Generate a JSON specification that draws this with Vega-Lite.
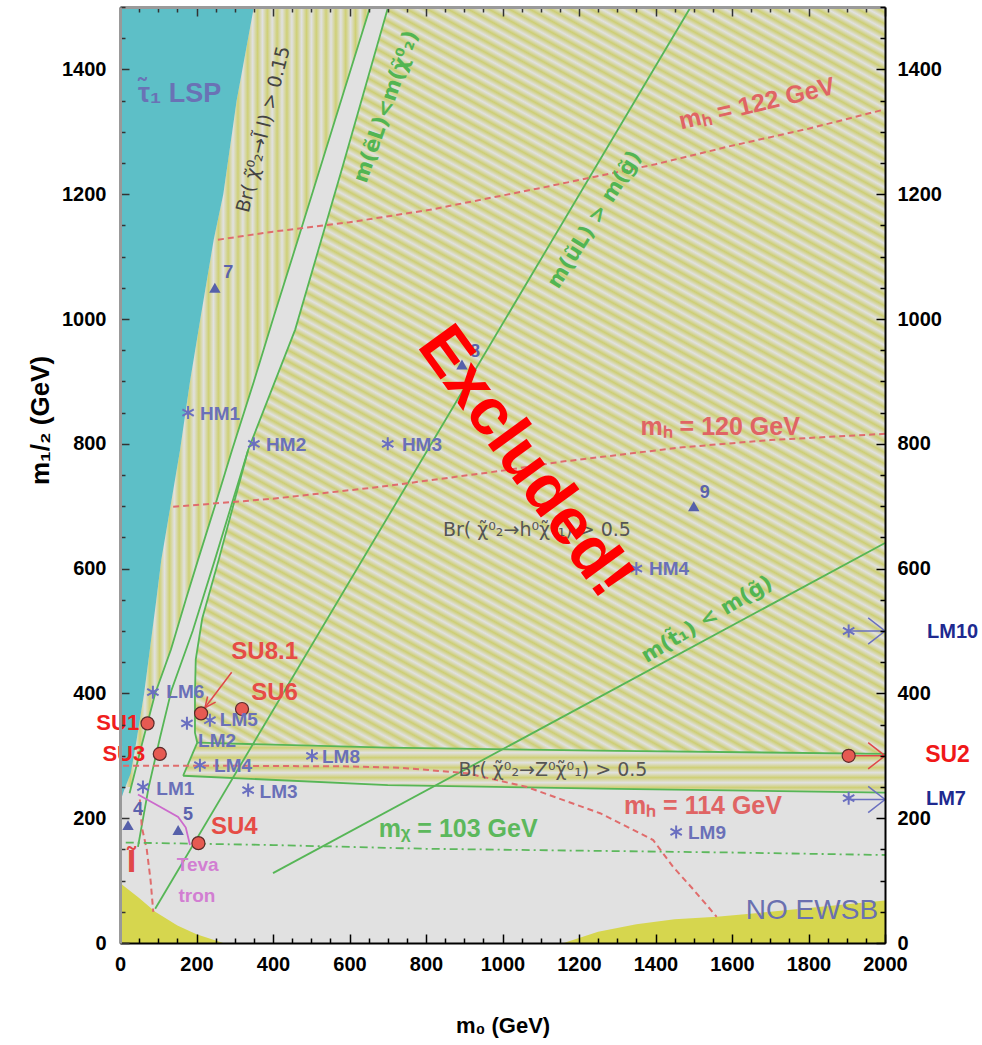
{
  "$schema": "https://vega.github.io/schema/vega-lite/v6.json",
  "width": 765,
  "height": 936,
  "autosize": {"type": "none"},
  "padding": {"left": 120, "top": 7, "right": 97, "bottom": 102},
  "background": "#ffffff",
  "config": {"view": {"stroke": null, "fill": "#e1e1e1"}, "font": "Liberation Sans"},
  "datasets": {
    "ewsb": [
      {"id": "a", "m0": 0, "m12": 96}, {"id": "a", "m0": 50, "m12": 72}, {"id": "a", "m0": 92, "m12": 50},
      {"id": "a", "m0": 150, "m12": 28}, {"id": "a", "m0": 200, "m12": 14}, {"id": "a", "m0": 270, "m12": 0},
      {"id": "b", "m0": 1160, "m12": 0}, {"id": "b", "m0": 1250, "m12": 18}, {"id": "b", "m0": 1350, "m12": 30},
      {"id": "b", "m0": 1450, "m12": 38}, {"id": "b", "m0": 1560, "m12": 42}, {"id": "b", "m0": 1700, "m12": 50},
      {"id": "b", "m0": 1800, "m12": 56}, {"id": "b", "m0": 1900, "m12": 62}, {"id": "b", "m0": 2000, "m12": 68}
    ],
    "teal": [
      {"m12": 225, "m0": 0, "hi": 0}, {"m12": 240, "m0": 0, "hi": 8}, {"m12": 250, "m0": 0, "hi": 14},
      {"m12": 272, "m0": 0, "hi": 28}, {"m12": 320, "m0": 0, "hi": 42}, {"m12": 400, "m0": 0, "hi": 63},
      {"m12": 470, "m0": 0, "hi": 78}, {"m12": 550, "m0": 0, "hi": 95}, {"m12": 614, "m0": 0, "hi": 108},
      {"m12": 700, "m0": 0, "hi": 132}, {"m12": 790, "m0": 0, "hi": 157}, {"m12": 900, "m0": 0, "hi": 183},
      {"m12": 1000, "m0": 0, "hi": 210}, {"m12": 1127, "m0": 0, "hi": 245}, {"m12": 1200, "m0": 0, "hi": 270},
      {"m12": 1350, "m0": 0, "hi": 305}, {"m12": 1500, "m0": 0, "hi": 350}
    ],
    "vstripe": [
      {"m12": 250, "m0": 14, "hi": 29}, {"m12": 320, "m0": 42, "hi": 58}, {"m12": 400, "m0": 63, "hi": 92},
      {"m12": 470, "m0": 78, "hi": 133}, {"m12": 550, "m0": 95, "hi": 172}, {"m12": 614, "m0": 108, "hi": 204},
      {"m12": 700, "m0": 132, "hi": 248}, {"m12": 790, "m0": 157, "hi": 293}, {"m12": 900, "m0": 183, "hi": 350},
      {"m12": 1000, "m0": 210, "hi": 400}, {"m12": 1127, "m0": 245, "hi": 465}, {"m12": 1200, "m0": 270, "hi": 502},
      {"m12": 1350, "m0": 305, "hi": 578}, {"m12": 1500, "m0": 350, "hi": 654}
    ],
    "hatch": [
      {"m12": 300, "m0": 200, "hi": 2000}, {"m12": 321, "m0": 202, "hi": 2000}, {"m12": 337, "m0": 196, "hi": 2000},
      {"m12": 400, "m0": 196, "hi": 2000}, {"m12": 454, "m0": 198, "hi": 2000}, {"m12": 520, "m0": 215, "hi": 2000},
      {"m12": 614, "m0": 258, "hi": 2000}, {"m12": 790, "m0": 335, "hi": 2000}, {"m12": 983, "m0": 458, "hi": 2000},
      {"m12": 1240, "m0": 580, "hi": 2000}, {"m12": 1500, "m0": 701, "hi": 2000}
    ],
    "zband": [
      {"m0": 165, "m12": 269, "lo": 268}, {"m0": 202, "m12": 321, "lo": 267}, {"m0": 700, "m12": 313, "lo": 253},
      {"m0": 1300, "m12": 308, "lo": 247}, {"m0": 2000, "m12": 303, "lo": 241}
    ],
    "gLines": [
      {"id": "A", "i": 0, "m0": 654, "m12": 1500}, {"id": "A", "i": 1, "m0": 578, "m12": 1350}, {"id": "A", "i": 2, "m0": 502, "m12": 1200},
      {"id": "A", "i": 3, "m0": 465, "m12": 1127}, {"id": "A", "i": 4, "m0": 400, "m12": 1000}, {"id": "A", "i": 5, "m0": 350, "m12": 900},
      {"id": "A", "i": 6, "m0": 293, "m12": 790}, {"id": "A", "i": 7, "m0": 248, "m12": 700}, {"id": "A", "i": 8, "m0": 204, "m12": 614},
      {"id": "A", "i": 9, "m0": 172, "m12": 550}, {"id": "A", "i": 10, "m0": 133, "m12": 470}, {"id": "A", "i": 11, "m0": 92, "m12": 400},
      {"id": "A", "i": 12, "m0": 58, "m12": 320}, {"id": "A", "i": 13, "m0": 25, "m12": 240},
      {"id": "B", "i": 0, "m0": 701, "m12": 1500}, {"id": "B", "i": 1, "m0": 580, "m12": 1240}, {"id": "B", "i": 2, "m0": 458, "m12": 983},
      {"id": "B", "i": 3, "m0": 335, "m12": 790}, {"id": "B", "i": 4, "m0": 248, "m12": 614}, {"id": "B", "i": 5, "m0": 190, "m12": 500},
      {"id": "B", "i": 6, "m0": 135, "m12": 406}, {"id": "B", "i": 7, "m0": 105, "m12": 330}, {"id": "B", "i": 8, "m0": 75, "m12": 250},
      {"id": "B", "i": 9, "m0": 47, "m12": 154},
      {"id": "C", "i": 0, "m0": 335, "m12": 790}, {"id": "C", "i": 1, "m0": 258, "m12": 614}, {"id": "C", "i": 2, "m0": 215, "m12": 520},
      {"id": "C", "i": 3, "m0": 198, "m12": 454}, {"id": "C", "i": 4, "m0": 196, "m12": 400}, {"id": "C", "i": 5, "m0": 196, "m12": 337},
      {"id": "C", "i": 6, "m0": 202, "m12": 321},
      {"id": "U", "i": 0, "m0": 1492, "m12": 1500}, {"id": "U", "i": 1, "m0": 92, "m12": 55},
      {"id": "T", "i": 0, "m0": 400, "m12": 112}, {"id": "T", "i": 1, "m0": 2000, "m12": 641},
      {"id": "ZT", "i": 0, "m0": 202, "m12": 321}, {"id": "ZT", "i": 1, "m0": 700, "m12": 313}, {"id": "ZT", "i": 2, "m0": 1300, "m12": 308}, {"id": "ZT", "i": 3, "m0": 2000, "m12": 303},
      {"id": "ZB", "i": 0, "m0": 165, "m12": 268}, {"id": "ZB", "i": 1, "m0": 700, "m12": 253}, {"id": "ZB", "i": 2, "m0": 1300, "m12": 247}, {"id": "ZB", "i": 3, "m0": 2000, "m12": 241},
      {"id": "ZL", "i": 0, "m0": 165, "m12": 268}, {"id": "ZL", "i": 1, "m0": 202, "m12": 321}
    ],
    "mhLines": [
      {"id": "h122", "i": 0, "m0": 256, "m12": 1127}, {"id": "h122", "i": 1, "m0": 400, "m12": 1140}, {"id": "h122", "i": 2, "m0": 600, "m12": 1155},
      {"id": "h122", "i": 3, "m0": 810, "m12": 1175}, {"id": "h122", "i": 4, "m0": 1100, "m12": 1210}, {"id": "h122", "i": 5, "m0": 1400, "m12": 1248},
      {"id": "h122", "i": 6, "m0": 1595, "m12": 1277}, {"id": "h122", "i": 7, "m0": 1800, "m12": 1305}, {"id": "h122", "i": 8, "m0": 2000, "m12": 1336},
      {"id": "h120", "i": 0, "m0": 139, "m12": 699}, {"id": "h120", "i": 1, "m0": 400, "m12": 712}, {"id": "h120", "i": 2, "m0": 680, "m12": 731},
      {"id": "h120", "i": 3, "m0": 1000, "m12": 757}, {"id": "h120", "i": 4, "m0": 1150, "m12": 771}, {"id": "h120", "i": 5, "m0": 1464, "m12": 794},
      {"id": "h120", "i": 6, "m0": 1700, "m12": 806}, {"id": "h120", "i": 7, "m0": 2000, "m12": 816},
      {"id": "h114", "i": 0, "m0": 8, "m12": 284}, {"id": "h114", "i": 1, "m0": 300, "m12": 284}, {"id": "h114", "i": 2, "m0": 600, "m12": 283},
      {"id": "h114", "i": 3, "m0": 732, "m12": 281}, {"id": "h114", "i": 4, "m0": 907, "m12": 272}, {"id": "h114", "i": 5, "m0": 1064, "m12": 250},
      {"id": "h114", "i": 6, "m0": 1255, "m12": 208}, {"id": "h114", "i": 7, "m0": 1394, "m12": 165}, {"id": "h114", "i": 8, "m0": 1446, "m12": 122},
      {"id": "h114", "i": 9, "m0": 1500, "m12": 85}, {"id": "h114", "i": 10, "m0": 1560, "m12": 42},
      {"id": "slep", "i": 0, "m0": 52, "m12": 230}, {"id": "slep", "i": 1, "m0": 57, "m12": 186}, {"id": "slep", "i": 2, "m0": 70, "m12": 150},
      {"id": "slep", "i": 3, "m0": 80, "m12": 100}, {"id": "slep", "i": 4, "m0": 87, "m12": 50}
    ],
    "mchi": [
      {"i": 0, "m0": 15, "m12": 161}, {"i": 1, "m0": 400, "m12": 157}, {"i": 2, "m0": 800, "m12": 151},
      {"i": 3, "m0": 1200, "m12": 148}, {"i": 4, "m0": 1600, "m12": 145}, {"i": 5, "m0": 2000, "m12": 141}
    ],
    "tev": [
      {"i": 0, "m0": 47, "m12": 238}, {"i": 1, "m0": 100, "m12": 220}, {"i": 2, "m0": 152, "m12": 202},
      {"i": 3, "m0": 172, "m12": 185}, {"i": 4, "m0": 183, "m12": 157}
    ],
    "redArrows": [
      {"id": "s81", "i": 0, "m0": 292, "m12": 434}, {"id": "s81", "i": 1, "m0": 222, "m12": 377},
      {"id": "s81h", "i": 0, "m0": 250, "m12": 386}, {"id": "s81h", "i": 1, "m0": 222, "m12": 377}, {"id": "s81h", "i": 2, "m0": 229, "m12": 395},
      {"id": "su2", "i": 0, "m0": 1905, "m12": 300}, {"id": "su2", "i": 1, "m0": 2000, "m12": 300},
      {"id": "su2h", "i": 0, "m0": 1956, "m12": 321}, {"id": "su2h", "i": 1, "m0": 2000, "m12": 300}, {"id": "su2h", "i": 2, "m0": 1956, "m12": 279}
    ],
    "blueArrows": [
      {"id": "lm10", "i": 0, "m0": 1905, "m12": 500}, {"id": "lm10", "i": 1, "m0": 2000, "m12": 500},
      {"id": "lm10h", "i": 0, "m0": 1956, "m12": 521}, {"id": "lm10h", "i": 1, "m0": 2000, "m12": 500}, {"id": "lm10h", "i": 2, "m0": 1956, "m12": 479},
      {"id": "lm7", "i": 0, "m0": 1905, "m12": 230}, {"id": "lm7", "i": 1, "m0": 2000, "m12": 230},
      {"id": "lm7h", "i": 0, "m0": 1956, "m12": 251}, {"id": "lm7h", "i": 1, "m0": 2000, "m12": 230}, {"id": "lm7h", "i": 2, "m0": 1956, "m12": 209}
    ],
    "su": [
      {"name": "SU1", "m0": 72, "m12": 352}, {"name": "SU3", "m0": 104, "m12": 303}, {"name": "SU8.1", "m0": 212, "m12": 368},
      {"name": "SU6", "m0": 319, "m12": 375}, {"name": "SU4", "m0": 205, "m12": 160}, {"name": "SU2", "m0": 1905, "m12": 300}
    ],
    "lm": [
      {"name": "LM1", "m0": 60, "m12": 250}, {"name": "LM2", "m0": 175, "m12": 352}, {"name": "LM3", "m0": 335, "m12": 245},
      {"name": "LM4", "m0": 209, "m12": 285}, {"name": "LM5", "m0": 235, "m12": 357}, {"name": "LM6", "m0": 86, "m12": 402},
      {"name": "LM7", "m0": 1905, "m12": 232}, {"name": "LM8", "m0": 502, "m12": 300}, {"name": "LM9", "m0": 1454, "m12": 178},
      {"name": "LM10", "m0": 1905, "m12": 500}, {"name": "HM1", "m0": 178, "m12": 850}, {"name": "HM2", "m0": 350, "m12": 800},
      {"name": "HM3", "m0": 700, "m12": 800}, {"name": "HM4", "m0": 1350, "m12": 600}
    ],
    "tri": [
      {"name": "4", "m0": 21, "m12": 189}, {"name": "5", "m0": 152, "m12": 181}, {"name": "7", "m0": 248, "m12": 1050},
      {"name": "8", "m0": 894, "m12": 927}, {"name": "9", "m0": 1500, "m12": 700}
    ],
    "lmLabels": [
      {"t": "LM6", "m0": 121, "m12": 403}, {"t": "LM5", "m0": 261, "m12": 357}, {"t": "LM2", "m0": 204, "m12": 323},
      {"t": "LM4", "m0": 246, "m12": 283}, {"t": "LM1", "m0": 95, "m12": 246}, {"t": "LM3", "m0": 365, "m12": 242},
      {"t": "LM8", "m0": 528, "m12": 298}, {"t": "LM9", "m0": 1485, "m12": 176}, {"t": "HM1", "m0": 209, "m12": 848},
      {"t": "HM2", "m0": 382, "m12": 798}, {"t": "HM3", "m0": 737, "m12": 798}, {"t": "HM4", "m0": 1383, "m12": 599}
    ],
    "suLabels": [
      {"t": "SU8.1", "m0": 291, "m12": 466}, {"t": "SU6", "m0": 343, "m12": 400}, {"t": "SU4", "m0": 238, "m12": 186}
    ],
    "suLeftLabels": [
      {"t": "SU1", "m0": 50, "m12": 352}, {"t": "SU3", "m0": 66, "m12": 303}
    ],
    "outLabels": [
      {"t": "LM10", "m0": 2110, "m12": 498}, {"t": "LM7", "m0": 2107, "m12": 230}
    ],
    "numLabels": [
      {"t": "4", "m0": 47, "m12": 213}, {"t": "5", "m0": 178, "m12": 205}, {"t": "7", "m0": 283, "m12": 1073},
      {"t": "8", "m0": 928, "m12": 947}, {"t": "9", "m0": 1529, "m12": 721}
    ],
    "mhLabels": [
      {"t": "mₕ = 120 GeV", "m0": 1569, "m12": 827}, {"t": "mₕ = 114 GeV", "m0": 1524, "m12": 220}
    ]
  },
  "resolve": {"axis": {"x": "independent", "y": "independent"}},
  "layer": [
    {
      "encoding": {
        "x": {
          "field": "m0", "type": "quantitative",
          "scale": {"domain": [0, 2000], "nice": false, "zero": false},
          "axis": {
            "orient": "bottom", "zindex": 1,
            "values": [0, 50, 100, 150, 200, 250, 300, 350, 400, 450, 500, 550, 600, 650, 700, 750, 800, 850, 900, 950, 1000, 1050, 1100, 1150, 1200, 1250, 1300, 1350, 1400, 1450, 1500, 1550, 1600, 1650, 1700, 1750, 1800, 1850, 1900, 1950, 2000],
            "format": "d",
            "labelExpr": "datum.value % 200 === 0 ? datum.label : ''",
            "tickSize": {"condition": {"test": "datum.value % 200 === 0", "value": -9}, "value": -5},
            "tickColor": "#000000", "tickWidth": 1.5,
            "domainColor": "#000000", "domainWidth": 2,
            "grid": false,
            "labelFont": "Liberation Sans", "labelFontWeight": "bold", "labelFontSize": 20, "labelColor": "#000000",
            "labelPadding": 20, "labelFlush": false, "labelOverlap": false, "labelBound": false,
            "title": "m₀ (GeV)", "titleFont": "Liberation Sans", "titleFontWeight": "bold", "titleFontSize": 22,
            "titleColor": "#000000", "titleBaseline": "middle", "titleY": 82
          }
        },
        "y": {
          "field": "m12", "type": "quantitative",
          "scale": {"domain": [0, 1500], "nice": false, "zero": false},
          "axis": {
            "orient": "left", "zindex": 1,
            "values": [0, 50, 100, 150, 200, 250, 300, 350, 400, 450, 500, 550, 600, 650, 700, 750, 800, 850, 900, 950, 1000, 1050, 1100, 1150, 1200, 1250, 1300, 1350, 1400, 1450, 1500],
            "format": "d",
            "labelExpr": "datum.value % 200 === 0 ? datum.label : ''",
            "tickSize": {"condition": {"test": "datum.value % 200 === 0", "value": -9}, "value": -5},
            "tickColor": "#333333", "tickWidth": 1.5,
            "domainColor": "#999999", "domainWidth": 3,
            "grid": false,
            "labelFont": "Liberation Sans", "labelFontWeight": "bold", "labelFontSize": 20, "labelColor": "#000000",
            "labelPadding": 23, "labelFlush": false, "labelOverlap": false, "labelBound": false,
            "title": "m₁/₂ (GeV)", "titleFont": "Liberation Sans", "titleFontWeight": "bold", "titleFontSize": 26,
            "titleColor": "#000000", "titleAngle": -90, "titleX": -80, "titleY": 413, "titleBaseline": "middle", "titleAlign": "center"
          }
        }
      },
      "layer": [
        {
          "data": {"name": "ewsb"},
          "mark": {"type": "area", "color": "#d6d64e", "opacity": 1},
          "encoding": {"y2": {"datum": 0}, "detail": {"field": "id"}}
        },
        {
          "data": {"name": "vstripe"},
          "mark": {
            "type": "area", "orient": "horizontal",
            "fill": {
              "gradient": "linear", "x1": 0, "y1": 0, "x2": 1, "y2": 0,
              "stops": [
                {"offset": 0, "color": "#e1e1e1"}, {"offset": 0.02, "color": "#cfd076"}, {"offset": 0.04, "color": "#e1e1e1"}, {"offset": 0.06, "color": "#cfd076"},
                {"offset": 0.08, "color": "#e1e1e1"}, {"offset": 0.1, "color": "#cfd076"}, {"offset": 0.12, "color": "#e1e1e1"}, {"offset": 0.14, "color": "#cfd076"},
                {"offset": 0.16, "color": "#e1e1e1"}, {"offset": 0.18, "color": "#cfd076"}, {"offset": 0.2, "color": "#e1e1e1"}, {"offset": 0.22, "color": "#cfd076"},
                {"offset": 0.24, "color": "#e1e1e1"}, {"offset": 0.26, "color": "#cfd076"}, {"offset": 0.28, "color": "#e1e1e1"}, {"offset": 0.3, "color": "#cfd076"},
                {"offset": 0.32, "color": "#e1e1e1"}, {"offset": 0.34, "color": "#cfd076"}, {"offset": 0.36, "color": "#e1e1e1"}, {"offset": 0.38, "color": "#cfd076"},
                {"offset": 0.4, "color": "#e1e1e1"}, {"offset": 0.42, "color": "#cfd076"}, {"offset": 0.44, "color": "#e1e1e1"}, {"offset": 0.46, "color": "#cfd076"},
                {"offset": 0.48, "color": "#e1e1e1"}, {"offset": 0.5, "color": "#cfd076"}, {"offset": 0.52, "color": "#e1e1e1"}, {"offset": 0.54, "color": "#cfd076"},
                {"offset": 0.56, "color": "#e1e1e1"}, {"offset": 0.58, "color": "#cfd076"}, {"offset": 0.6, "color": "#e1e1e1"}, {"offset": 0.62, "color": "#cfd076"},
                {"offset": 0.64, "color": "#e1e1e1"}, {"offset": 0.66, "color": "#cfd076"}, {"offset": 0.68, "color": "#e1e1e1"}, {"offset": 0.7, "color": "#cfd076"},
                {"offset": 0.72, "color": "#e1e1e1"}, {"offset": 0.74, "color": "#cfd076"}, {"offset": 0.76, "color": "#e1e1e1"}, {"offset": 0.78, "color": "#cfd076"},
                {"offset": 0.8, "color": "#e1e1e1"}, {"offset": 0.82, "color": "#cfd076"}, {"offset": 0.84, "color": "#e1e1e1"}, {"offset": 0.86, "color": "#cfd076"},
                {"offset": 0.88, "color": "#e1e1e1"}, {"offset": 0.9, "color": "#cfd076"}, {"offset": 0.92, "color": "#e1e1e1"}, {"offset": 0.94, "color": "#cfd076"},
                {"offset": 0.96, "color": "#e1e1e1"}, {"offset": 0.98, "color": "#cfd076"}, {"offset": 1, "color": "#e1e1e1"}
              ]
            }
          },
          "encoding": {"x2": {"field": "hi"}}
        },
        {
          "data": {"name": "hatch"},
          "mark": {
            "type": "area", "orient": "horizontal",
            "fill": {
              "gradient": "linear", "x1": 1, "y1": 0, "x2": 0.3924, "y2": 1.1989,
              "stops": [
                {"offset": 0, "color": "#e1e1e1"}, {"offset": 0.005, "color": "#cdce74"}, {"offset": 0.01, "color": "#e1e1e1"}, {"offset": 0.015, "color": "#cdce74"},
                {"offset": 0.02, "color": "#e1e1e1"}, {"offset": 0.025, "color": "#cdce74"}, {"offset": 0.03, "color": "#e1e1e1"}, {"offset": 0.035, "color": "#cdce74"},
                {"offset": 0.04, "color": "#e1e1e1"}, {"offset": 0.045, "color": "#cdce74"}, {"offset": 0.05, "color": "#e1e1e1"}, {"offset": 0.055, "color": "#cdce74"},
                {"offset": 0.06, "color": "#e1e1e1"}, {"offset": 0.065, "color": "#cdce74"}, {"offset": 0.07, "color": "#e1e1e1"}, {"offset": 0.075, "color": "#cdce74"},
                {"offset": 0.08, "color": "#e1e1e1"}, {"offset": 0.085, "color": "#cdce74"}, {"offset": 0.09, "color": "#e1e1e1"}, {"offset": 0.095, "color": "#cdce74"},
                {"offset": 0.1, "color": "#e1e1e1"}, {"offset": 0.105, "color": "#cdce74"}, {"offset": 0.11, "color": "#e1e1e1"}, {"offset": 0.115, "color": "#cdce74"},
                {"offset": 0.12, "color": "#e1e1e1"}, {"offset": 0.125, "color": "#cdce74"}, {"offset": 0.13, "color": "#e1e1e1"}, {"offset": 0.135, "color": "#cdce74"},
                {"offset": 0.14, "color": "#e1e1e1"}, {"offset": 0.145, "color": "#cdce74"}, {"offset": 0.15, "color": "#e1e1e1"}, {"offset": 0.155, "color": "#cdce74"},
                {"offset": 0.16, "color": "#e1e1e1"}, {"offset": 0.165, "color": "#cdce74"}, {"offset": 0.17, "color": "#e1e1e1"}, {"offset": 0.175, "color": "#cdce74"},
                {"offset": 0.18, "color": "#e1e1e1"}, {"offset": 0.185, "color": "#cdce74"}, {"offset": 0.19, "color": "#e1e1e1"}, {"offset": 0.195, "color": "#cdce74"},
                {"offset": 0.2, "color": "#e1e1e1"}, {"offset": 0.205, "color": "#cdce74"}, {"offset": 0.21, "color": "#e1e1e1"}, {"offset": 0.215, "color": "#cdce74"},
                {"offset": 0.22, "color": "#e1e1e1"}, {"offset": 0.225, "color": "#cdce74"}, {"offset": 0.23, "color": "#e1e1e1"}, {"offset": 0.235, "color": "#cdce74"},
                {"offset": 0.24, "color": "#e1e1e1"}, {"offset": 0.245, "color": "#cdce74"}, {"offset": 0.25, "color": "#e1e1e1"}, {"offset": 0.255, "color": "#cdce74"},
                {"offset": 0.26, "color": "#e1e1e1"}, {"offset": 0.265, "color": "#cdce74"}, {"offset": 0.27, "color": "#e1e1e1"}, {"offset": 0.275, "color": "#cdce74"},
                {"offset": 0.28, "color": "#e1e1e1"}, {"offset": 0.285, "color": "#cdce74"}, {"offset": 0.29, "color": "#e1e1e1"}, {"offset": 0.295, "color": "#cdce74"},
                {"offset": 0.3, "color": "#e1e1e1"}, {"offset": 0.305, "color": "#cdce74"}, {"offset": 0.31, "color": "#e1e1e1"}, {"offset": 0.315, "color": "#cdce74"},
                {"offset": 0.32, "color": "#e1e1e1"}, {"offset": 0.325, "color": "#cdce74"}, {"offset": 0.33, "color": "#e1e1e1"}, {"offset": 0.335, "color": "#cdce74"},
                {"offset": 0.34, "color": "#e1e1e1"}, {"offset": 0.345, "color": "#cdce74"}, {"offset": 0.35, "color": "#e1e1e1"}, {"offset": 0.355, "color": "#cdce74"},
                {"offset": 0.36, "color": "#e1e1e1"}, {"offset": 0.365, "color": "#cdce74"}, {"offset": 0.37, "color": "#e1e1e1"}, {"offset": 0.375, "color": "#cdce74"},
                {"offset": 0.38, "color": "#e1e1e1"}, {"offset": 0.385, "color": "#cdce74"}, {"offset": 0.39, "color": "#e1e1e1"}, {"offset": 0.395, "color": "#cdce74"},
                {"offset": 0.4, "color": "#e1e1e1"}, {"offset": 0.405, "color": "#cdce74"}, {"offset": 0.41, "color": "#e1e1e1"}, {"offset": 0.415, "color": "#cdce74"},
                {"offset": 0.42, "color": "#e1e1e1"}, {"offset": 0.425, "color": "#cdce74"}, {"offset": 0.43, "color": "#e1e1e1"}, {"offset": 0.435, "color": "#cdce74"},
                {"offset": 0.44, "color": "#e1e1e1"}, {"offset": 0.445, "color": "#cdce74"}, {"offset": 0.45, "color": "#e1e1e1"}, {"offset": 0.455, "color": "#cdce74"},
                {"offset": 0.46, "color": "#e1e1e1"}, {"offset": 0.465, "color": "#cdce74"}, {"offset": 0.47, "color": "#e1e1e1"}, {"offset": 0.475, "color": "#cdce74"},
                {"offset": 0.48, "color": "#e1e1e1"}, {"offset": 0.485, "color": "#cdce74"}, {"offset": 0.49, "color": "#e1e1e1"}, {"offset": 0.495, "color": "#cdce74"},
                {"offset": 0.5, "color": "#e1e1e1"}, {"offset": 0.505, "color": "#cdce74"}, {"offset": 0.51, "color": "#e1e1e1"}, {"offset": 0.515, "color": "#cdce74"},
                {"offset": 0.52, "color": "#e1e1e1"}, {"offset": 0.525, "color": "#cdce74"}, {"offset": 0.53, "color": "#e1e1e1"}, {"offset": 0.535, "color": "#cdce74"},
                {"offset": 0.54, "color": "#e1e1e1"}, {"offset": 0.545, "color": "#cdce74"}, {"offset": 0.55, "color": "#e1e1e1"}, {"offset": 0.555, "color": "#cdce74"},
                {"offset": 0.56, "color": "#e1e1e1"}, {"offset": 0.565, "color": "#cdce74"}, {"offset": 0.57, "color": "#e1e1e1"}, {"offset": 0.575, "color": "#cdce74"},
                {"offset": 0.58, "color": "#e1e1e1"}, {"offset": 0.585, "color": "#cdce74"}, {"offset": 0.59, "color": "#e1e1e1"}, {"offset": 0.595, "color": "#cdce74"},
                {"offset": 0.6, "color": "#e1e1e1"}, {"offset": 0.605, "color": "#cdce74"}, {"offset": 0.61, "color": "#e1e1e1"}, {"offset": 0.615, "color": "#cdce74"},
                {"offset": 0.62, "color": "#e1e1e1"}, {"offset": 0.625, "color": "#cdce74"}, {"offset": 0.63, "color": "#e1e1e1"}, {"offset": 0.635, "color": "#cdce74"},
                {"offset": 0.64, "color": "#e1e1e1"}, {"offset": 0.645, "color": "#cdce74"}, {"offset": 0.65, "color": "#e1e1e1"}, {"offset": 0.655, "color": "#cdce74"},
                {"offset": 0.66, "color": "#e1e1e1"}, {"offset": 0.665, "color": "#cdce74"}, {"offset": 0.67, "color": "#e1e1e1"}, {"offset": 0.675, "color": "#cdce74"},
                {"offset": 0.68, "color": "#e1e1e1"}, {"offset": 0.685, "color": "#cdce74"}, {"offset": 0.69, "color": "#e1e1e1"}, {"offset": 0.695, "color": "#cdce74"},
                {"offset": 0.7, "color": "#e1e1e1"}, {"offset": 0.705, "color": "#cdce74"}, {"offset": 0.71, "color": "#e1e1e1"}, {"offset": 0.715, "color": "#cdce74"},
                {"offset": 0.72, "color": "#e1e1e1"}, {"offset": 0.725, "color": "#cdce74"}, {"offset": 0.73, "color": "#e1e1e1"}, {"offset": 0.735, "color": "#cdce74"},
                {"offset": 0.74, "color": "#e1e1e1"}, {"offset": 0.745, "color": "#cdce74"}, {"offset": 0.75, "color": "#e1e1e1"}, {"offset": 0.755, "color": "#cdce74"},
                {"offset": 0.76, "color": "#e1e1e1"}, {"offset": 0.765, "color": "#cdce74"}, {"offset": 0.77, "color": "#e1e1e1"}, {"offset": 0.775, "color": "#cdce74"},
                {"offset": 0.78, "color": "#e1e1e1"}, {"offset": 0.785, "color": "#cdce74"}, {"offset": 0.79, "color": "#e1e1e1"}, {"offset": 0.795, "color": "#cdce74"},
                {"offset": 0.8, "color": "#e1e1e1"}, {"offset": 0.805, "color": "#cdce74"}, {"offset": 0.81, "color": "#e1e1e1"}, {"offset": 0.815, "color": "#cdce74"},
                {"offset": 0.82, "color": "#e1e1e1"}, {"offset": 0.825, "color": "#cdce74"}, {"offset": 0.83, "color": "#e1e1e1"}, {"offset": 0.835, "color": "#cdce74"},
                {"offset": 0.84, "color": "#e1e1e1"}, {"offset": 0.845, "color": "#cdce74"}, {"offset": 0.85, "color": "#e1e1e1"}, {"offset": 0.855, "color": "#cdce74"},
                {"offset": 0.86, "color": "#e1e1e1"}, {"offset": 0.865, "color": "#cdce74"}, {"offset": 0.87, "color": "#e1e1e1"}, {"offset": 0.875, "color": "#cdce74"},
                {"offset": 0.88, "color": "#e1e1e1"}, {"offset": 0.885, "color": "#cdce74"}, {"offset": 0.89, "color": "#e1e1e1"}, {"offset": 0.895, "color": "#cdce74"},
                {"offset": 0.9, "color": "#e1e1e1"}, {"offset": 0.905, "color": "#cdce74"}, {"offset": 0.91, "color": "#e1e1e1"}, {"offset": 0.915, "color": "#cdce74"},
                {"offset": 0.92, "color": "#e1e1e1"}, {"offset": 0.925, "color": "#cdce74"}, {"offset": 0.93, "color": "#e1e1e1"}, {"offset": 0.935, "color": "#cdce74"},
                {"offset": 0.94, "color": "#e1e1e1"}, {"offset": 0.945, "color": "#cdce74"}, {"offset": 0.95, "color": "#e1e1e1"}, {"offset": 0.955, "color": "#cdce74"},
                {"offset": 0.96, "color": "#e1e1e1"}, {"offset": 0.965, "color": "#cdce74"}, {"offset": 0.97, "color": "#e1e1e1"}, {"offset": 0.975, "color": "#cdce74"},
                {"offset": 0.98, "color": "#e1e1e1"}, {"offset": 0.985, "color": "#cdce74"}, {"offset": 0.99, "color": "#e1e1e1"}, {"offset": 0.995, "color": "#cdce74"},
                {"offset": 1, "color": "#e1e1e1"}
              ]
            }
          },
          "encoding": {"x2": {"field": "hi"}}
        },
        {
          "data": {"name": "zband"},
          "mark": {
            "type": "area",
            "fill": {
              "gradient": "linear", "x1": 0, "y1": 0, "x2": 0, "y2": 1,
              "stops": [
                {"offset": 0, "color": "#e1e1e1"}, {"offset": 0.1, "color": "#cfd076"}, {"offset": 0.2, "color": "#e1e1e1"}, {"offset": 0.3, "color": "#cfd076"},
                {"offset": 0.4, "color": "#e1e1e1"}, {"offset": 0.5, "color": "#cfd076"}, {"offset": 0.6, "color": "#e1e1e1"}, {"offset": 0.7, "color": "#cfd076"},
                {"offset": 0.8, "color": "#e1e1e1"}, {"offset": 0.9, "color": "#cfd076"}, {"offset": 1, "color": "#e1e1e1"}
              ]
            }
          },
          "encoding": {"y2": {"field": "lo"}}
        },
        {
          "data": {"name": "teal"},
          "mark": {"type": "area", "orient": "horizontal", "color": "#5dbfc7", "opacity": 1},
          "encoding": {"x2": {"field": "hi"}}
        },
        {
          "data": {"name": "gLines"},
          "mark": {"type": "line", "color": "#56b656", "strokeWidth": 1.8},
          "encoding": {"detail": {"field": "id"}, "order": {"field": "i"}}
        },
        {
          "data": {"name": "mhLines"},
          "mark": {"type": "line", "color": "#e06c6c", "strokeWidth": 2, "strokeDash": [6, 4]},
          "encoding": {"detail": {"field": "id"}, "order": {"field": "i"}}
        },
        {
          "data": {"name": "mchi"},
          "mark": {"type": "line", "color": "#5cb85c", "strokeWidth": 1.8, "strokeDash": [8, 4, 2, 4]},
          "encoding": {"order": {"field": "i"}}
        },
        {
          "data": {"name": "tev"},
          "mark": {"type": "line", "color": "#cc6acc", "strokeWidth": 1.8},
          "encoding": {"order": {"field": "i"}}
        },
        {
          "data": {"name": "redArrows"},
          "mark": {"type": "line", "color": "#e04848", "strokeWidth": 1.5},
          "encoding": {"detail": {"field": "id"}, "order": {"field": "i"}}
        },
        {
          "data": {"name": "blueArrows"},
          "mark": {"type": "line", "color": "#6a70c0", "strokeWidth": 1.5},
          "encoding": {"detail": {"field": "id"}, "order": {"field": "i"}}
        },
        {
          "data": {"values": [{"m0": 47, "m12": 1348, "t": "τ̃₁ LSP"}]},
          "mark": {"type": "text", "align": "left", "baseline": "alphabetic", "font": "Liberation Sans", "fontWeight": "bold", "fontSize": 27, "color": "#6a72b5"},
          "encoding": {"text": {"field": "t"}}
        },
        {
          "data": {"values": [{"m0": 375, "m12": 1304, "t": "Br( χ̃⁰₂→l̃ l) > 0.15"}]},
          "mark": {"type": "text", "align": "center", "baseline": "middle", "angle": -76, "font": "DejaVu Sans", "fontSize": 19, "color": "#444444"},
          "encoding": {"text": {"field": "t"}}
        },
        {
          "data": {"values": [{"m0": 697, "m12": 1340, "t": "m(ẽL)<m(χ̃⁰₂)"}]},
          "mark": {"type": "text", "align": "center", "baseline": "middle", "angle": -71, "font": "DejaVu Sans", "fontWeight": "bold", "fontSize": 21, "color": "#52b552"},
          "encoding": {"text": {"field": "t"}}
        },
        {
          "data": {"values": [{"m0": 1242, "m12": 1159, "t": "m(ũL) > m(g̃)"}]},
          "mark": {"type": "text", "align": "center", "baseline": "middle", "angle": -58, "font": "DejaVu Sans", "fontWeight": "bold", "fontSize": 21, "color": "#52b552"},
          "encoding": {"text": {"field": "t"}}
        },
        {
          "data": {"values": [{"m0": 1535, "m12": 518, "t": "m(t̃₁) < m(g̃)"}]},
          "mark": {"type": "text", "align": "center", "baseline": "middle", "angle": -31, "font": "DejaVu Sans", "fontWeight": "bold", "fontSize": 21, "color": "#52b552"},
          "encoding": {"text": {"field": "t"}}
        },
        {
          "data": {"values": [{"m0": 1665, "m12": 1345, "t": "mₕ = 122 GeV"}]},
          "mark": {"type": "text", "align": "center", "baseline": "middle", "angle": -13, "font": "Liberation Sans", "fontWeight": "bold", "fontSize": 25, "color": "#e06464"},
          "encoding": {"text": {"field": "t"}}
        },
        {
          "data": {"name": "mhLabels"},
          "mark": {"type": "text", "align": "center", "baseline": "middle", "font": "Liberation Sans", "fontWeight": "bold", "fontSize": 25, "color": "#e06464"},
          "encoding": {"text": {"field": "t"}}
        },
        {
          "data": {"values": [{"m0": 884, "m12": 183, "t": "mᵪ = 103 GeV"}]},
          "mark": {"type": "text", "align": "center", "baseline": "middle", "font": "Liberation Sans", "fontWeight": "bold", "fontSize": 25, "color": "#5cb85c"},
          "encoding": {"text": {"field": "t"}}
        },
        {
          "data": {"values": [{"m0": 1090, "m12": 662, "t": "Br( χ̃⁰₂→h⁰χ̃⁰₁) > 0.5"}, {"m0": 1132, "m12": 277, "t": "Br( χ̃⁰₂→Z⁰χ̃⁰₁) > 0.5"}]},
          "mark": {"type": "text", "align": "center", "baseline": "middle", "font": "DejaVu Sans", "fontSize": 19, "color": "#555555"},
          "encoding": {"text": {"field": "t"}}
        },
        {
          "data": {"values": [{"m0": 1809, "m12": 51, "t": "NO EWSB"}]},
          "mark": {"type": "text", "align": "center", "baseline": "middle", "font": "Liberation Sans", "fontSize": 28, "color": "#6a70b0"},
          "encoding": {"text": {"field": "t"}}
        },
        {
          "data": {"values": [{"m0": 203, "m12": 125, "t": "Teva"}, {"m0": 201, "m12": 75, "t": "tron"}]},
          "mark": {"type": "text", "align": "center", "baseline": "middle", "font": "Liberation Sans", "fontWeight": "bold", "fontSize": 19, "color": "#d27ed2"},
          "encoding": {"text": {"field": "t"}}
        },
        {
          "data": {"values": [{"m0": 30, "m12": 127, "t": "l̃"}]},
          "mark": {"type": "text", "align": "center", "baseline": "middle", "font": "DejaVu Sans", "fontWeight": "bold", "fontSize": 28, "color": "#e04848"},
          "encoding": {"text": {"field": "t"}}
        },
        {
          "data": {"name": "tri"},
          "mark": {"type": "point", "shape": "triangle-up", "filled": true, "size": 130, "color": "#5660aa", "opacity": 1}
        },
        {
          "data": {"name": "lm"},
          "mark": {"type": "point", "shape": "M0,-1L0,1M-0.87,-0.5L0.87,0.5M-0.87,0.5L0.87,-0.5", "filled": false, "size": 170, "color": "#6a6fc0", "strokeWidth": 2, "opacity": 1}
        },
        {
          "data": {"name": "su"},
          "mark": {"type": "point", "shape": "circle", "filled": true, "size": 170, "fill": "#e65a52", "stroke": "#5a2a2a", "strokeWidth": 1.2, "opacity": 1}
        },
        {
          "data": {"name": "lmLabels"},
          "mark": {"type": "text", "align": "left", "baseline": "middle", "font": "Liberation Sans", "fontWeight": "bold", "fontSize": 19, "color": "#6a70b8"},
          "encoding": {"text": {"field": "t"}}
        },
        {
          "data": {"name": "numLabels"},
          "mark": {"type": "text", "align": "center", "baseline": "middle", "font": "Liberation Sans", "fontWeight": "bold", "fontSize": 18, "color": "#5a62ad"},
          "encoding": {"text": {"field": "t"}}
        },
        {
          "data": {"name": "suLabels"},
          "mark": {"type": "text", "align": "left", "baseline": "middle", "font": "Liberation Sans", "fontWeight": "bold", "fontSize": 24, "color": "#e64c46"},
          "encoding": {"text": {"field": "t"}}
        },
        {
          "data": {"name": "suLeftLabels"},
          "mark": {"type": "text", "align": "right", "baseline": "middle", "font": "Liberation Sans", "fontWeight": "bold", "fontSize": 22, "color": "#f01e1e"},
          "encoding": {"text": {"field": "t"}}
        },
        {
          "data": {"values": [{"m0": 2105, "m12": 301, "t": "SU2"}]},
          "mark": {"type": "text", "align": "left", "baseline": "middle", "font": "Liberation Sans", "fontWeight": "bold", "fontSize": 23, "color": "#f01818"},
          "encoding": {"text": {"field": "t"}}
        },
        {
          "data": {"name": "outLabels"},
          "mark": {"type": "text", "align": "left", "baseline": "middle", "font": "Liberation Sans", "fontWeight": "bold", "fontSize": 20, "color": "#1e2a90"},
          "encoding": {"text": {"field": "t"}}
        },
        {
          "data": {"values": [{"m0": 1059, "m12": 771, "t": "Excluded!"}]},
          "mark": {"type": "text", "align": "center", "baseline": "middle", "angle": 54, "font": "Liberation Sans", "fontWeight": "bold", "fontSize": 66, "color": "#ff0000"},
          "encoding": {"text": {"field": "t"}}
        }
      ]
    },
    {
      "data": {"values": [{"m0": 0, "m12": 0}]},
      "mark": {"type": "point", "opacity": 0},
      "encoding": {
        "x": {
          "field": "m0", "type": "quantitative",
          "scale": {"domain": [0, 2000], "nice": false, "zero": false},
          "axis": {
            "orient": "top", "zindex": 1,
            "values": [0, 50, 100, 150, 200, 250, 300, 350, 400, 450, 500, 550, 600, 650, 700, 750, 800, 850, 900, 950, 1000, 1050, 1100, 1150, 1200, 1250, 1300, 1350, 1400, 1450, 1500, 1550, 1600, 1650, 1700, 1750, 1800, 1850, 1900, 1950, 2000],
            "labels": false,
            "tickSize": {"condition": {"test": "datum.value % 200 === 0", "value": -9}, "value": -5},
            "tickColor": "#333333", "tickWidth": 1.5,
            "domainColor": "#9a9a9a", "domainWidth": 3,
            "grid": false, "title": null
          }
        },
        "y": {
          "field": "m12", "type": "quantitative",
          "scale": {"domain": [0, 1500], "nice": false, "zero": false},
          "axis": {
            "orient": "right", "zindex": 1,
            "values": [0, 50, 100, 150, 200, 250, 300, 350, 400, 450, 500, 550, 600, 650, 700, 750, 800, 850, 900, 950, 1000, 1050, 1100, 1150, 1200, 1250, 1300, 1350, 1400, 1450, 1500],
            "format": "d",
            "labelExpr": "datum.value % 200 === 0 ? datum.label : ''",
            "tickSize": {"condition": {"test": "datum.value % 200 === 0", "value": -9}, "value": -5},
            "tickColor": "#000000", "tickWidth": 1.5,
            "domainColor": "#000000", "domainWidth": 2,
            "grid": false,
            "labelFont": "Liberation Sans", "labelFontWeight": "bold", "labelFontSize": 20, "labelColor": "#000000",
            "labelAlign": "left", "labelPadding": 21, "labelFlush": false, "labelOverlap": false, "labelBound": false,
            "title": null
          }
        }
      }
    }
  ]
}
